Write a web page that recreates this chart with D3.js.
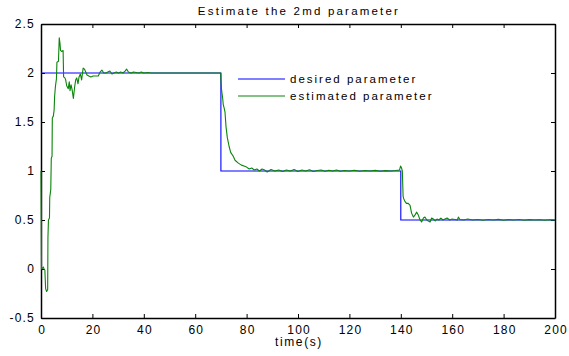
<!DOCTYPE html>
<html>
<head>
<meta charset="utf-8">
<script src="https://d3js.org/d3.v7.min.js"></script>
<style>
  html, body { margin: 0; padding: 0; background: #fff; }
  svg { display: block; }
  text { font-family: "Liberation Sans", Arial, Helvetica, sans-serif; fill: #000; }
</style>
</head>
<body>
<svg id="chart" width="569" height="356"></svg>
<script>
const titleText = "Estimate the 2md parameter";
const xLabel = "time(s)";
const seriesNames = ["desired parameter", "estimated parameter"];
const xTicks = [0, 20, 40, 60, 80, 100, 120, 140, 160, 180, 200];
const yTicks = [-0.5, 0, 0.5, 1, 1.5, 2, 2.5];
const yTickLabels = ["-0.5", "0", "0.5", "1", "1.5", "2", "2.5"];

// desired parameter (step function) as [time, value]
const desiredData = [[0, 2], [70, 2], [70, 1], [140, 1], [140, 0.5], [200, 0.5]];

// estimated parameter as [time, value]
const estimatedData = [
  [0, 1.0], [0.2, 0.0], [0.6, 0.01], [0.9, 0.02], [1.2, 0.0], [1.5, -0.01], [1.8, -0.2], [2.2, -0.23], [2.6, -0.21],
  [2.7, 0.32], [2.9, 0.5], [3.3, 0.52], [3.4, 0.73], [3.8, 0.81], [4.0, 1.13], [4.3, 1.15], [4.4, 1.54], [4.8, 1.56],
  [5.1, 1.62], [5.3, 1.76], [5.6, 1.86], [6.0, 1.94], [6.2, 2.11], [6.8, 2.12], [7.1, 2.36], [7.4, 2.3], [7.6, 2.23],
  [8.0, 2.22], [8.6, 2.23], [8.8, 1.96], [9.3, 1.95], [9.6, 1.93], [10.0, 1.87], [10.6, 1.84], [11.0, 1.91], [11.3, 1.82],
  [11.7, 1.88], [12.1, 1.83], [12.6, 1.74], [13.1, 1.86], [13.5, 1.93], [13.9, 1.95], [14.4, 1.89], [14.8, 1.96],
  [15.3, 1.99], [15.8, 1.93], [16.4, 2.05], [16.9, 2.04], [17.4, 2.01], [17.9, 1.98], [18.6, 1.97], [19.4, 1.96],
  [20.3, 1.97], [21.3, 1.97], [22.3, 1.97], [23.0, 2.01], [23.7, 2.03], [24.4, 2.0], [25.2, 2.0], [26.0, 2.01],
  [26.8, 2.02], [27.6, 1.99], [28.4, 2.0], [29.3, 2.01], [30.2, 2.0], [31.0, 2.01], [31.9, 2.0], [32.7, 2.02],
  [33.3, 2.04], [34.0, 2.01], [35.0, 2.0], [36.0, 2.01], [37.0, 2.005], [38.0, 2.0], [39.0, 2.01], [40.0, 2.0],
  [41.5, 2.005], [43.0, 2.0], [45.0, 2.0], [50.0, 2.0], [55.0, 2.0], [60.0, 2.0], [65.0, 2.0], [69.9, 2.0],
  [70.2, 1.84], [70.4, 1.8], [70.7, 1.74], [70.9, 1.68], [71.3, 1.64], [71.6, 1.6], [72.0, 1.45], [72.5, 1.34],
  [73.2, 1.25], [73.8, 1.19], [74.8, 1.15], [75.5, 1.11], [76.8, 1.08], [78.0, 1.06], [79.0, 1.05], [80.0, 1.04],
  [81.0, 1.02], [82.0, 1.03], [83.0, 1.01], [84.0, 1.02], [85.0, 1.0], [86.0, 1.02], [87.0, 1.01], [88.0, 0.99],
  [89.5, 1.015], [91.0, 1.0], [92.5, 1.01], [94.0, 0.995], [95.5, 1.01], [97.0, 1.0], [98.5, 1.015], [100.0, 0.995],
  [101.5, 1.01], [103.0, 1.0], [104.5, 1.012], [106.0, 0.995], [107.5, 1.005], [109.0, 1.01], [110.5, 0.998],
  [112.0, 1.008], [113.5, 1.0], [115.0, 1.01], [116.5, 0.997], [118.0, 1.005], [120.0, 1.0], [122.0, 1.008],
  [124.0, 0.998], [126.0, 1.005], [128.0, 1.0], [130.0, 1.006], [132.0, 0.998], [134.0, 1.004], [136.0, 1.0],
  [138.0, 1.005], [139.5, 1.01], [139.9, 1.05], [140.3, 1.03], [140.6, 1.0],
  [140.9, 0.74], [141.1, 0.72], [141.6, 0.69], [142.2, 0.67], [142.9, 0.67], [143.6, 0.65], [144.2, 0.57],
  [144.9, 0.53], [145.5, 0.55], [146.2, 0.58], [146.8, 0.55], [147.5, 0.5], [148.1, 0.48], [148.8, 0.52],
  [149.4, 0.53], [150.1, 0.5], [150.7, 0.49], [151.4, 0.48], [152.0, 0.52], [152.7, 0.51], [153.4, 0.49],
  [154.1, 0.51], [154.8, 0.5], [155.6, 0.52], [156.4, 0.5], [157.2, 0.51], [158.0, 0.52], [159.0, 0.5],
  [160.0, 0.51], [161.0, 0.505], [162.0, 0.5], [162.4, 0.53], [163.0, 0.505], [164.5, 0.5], [166.0, 0.51],
  [168.0, 0.5], [170.0, 0.505], [172.0, 0.498], [174.0, 0.505], [176.0, 0.5], [178.0, 0.506], [180.0, 0.498],
  [182.0, 0.504], [184.0, 0.5], [186.0, 0.505], [188.0, 0.498], [190.0, 0.504], [192.0, 0.5], [194.0, 0.503],
  [196.0, 0.498], [198.0, 0.502], [200.0, 0.5]
];

const svg = d3.select("#chart");
const mLeft = 41, mRight = 555, mTop = 24, mBottom = 318;

const x = d3.scaleLinear().domain([0, 200]).range([mLeft, mRight]);
const y = d3.scaleLinear().domain([-0.5, 2.5]).range([mBottom, mTop]);

svg.append("rect").attr("x", mLeft).attr("y", mTop)
  .attr("width", mRight - mLeft).attr("height", mBottom - mTop).attr("fill", "#fff");

const tickLen = 4;
const gx = svg.append("g").attr("transform", `translate(0,${mBottom})`)
  .call(d3.axisBottom(x).tickValues(xTicks).tickSizeInner(-tickLen).tickSizeOuter(0).tickPadding(7).tickFormat(d3.format("d")));
const gxTop = svg.append("g").attr("transform", `translate(0,${mTop})`)
  .call(d3.axisTop(x).tickValues(xTicks).tickSizeInner(-tickLen).tickSizeOuter(0).tickFormat(""));
const gy = svg.append("g").attr("transform", `translate(${mLeft},0)`)
  .call(d3.axisLeft(y).tickValues(yTicks).tickSizeInner(-tickLen).tickSizeOuter(0).tickPadding(6)
    .tickFormat((d, i) => yTickLabels[i]));
const gyR = svg.append("g").attr("transform", `translate(${mRight},0)`)
  .call(d3.axisRight(y).tickValues(yTicks).tickSizeInner(-tickLen).tickSizeOuter(0).tickFormat(""));

[gx, gxTop, gy, gyR].forEach(g => {
  g.selectAll(".domain").attr("stroke", "#000").attr("stroke-width", 1.5);
  g.selectAll(".tick line").attr("stroke", "#000").attr("stroke-width", 1);
  g.selectAll("text").attr("font-size", 12).attr("letter-spacing", "1.2px")
    .attr("font-family", "'Liberation Sans', Arial, sans-serif").attr("fill", "#000");
});
// compensate trailing letter-spacing for centred x labels
gx.selectAll("text").attr("dx", "0.6px");

const line = d3.line().x(d => x(d[0])).y(d => y(d[1]));

svg.append("path").datum(desiredData).attr("d", line)
  .attr("fill", "none").attr("stroke", "#0000ff").attr("stroke-width", 1.1);
svg.append("path").datum(estimatedData).attr("d", line)
  .attr("fill", "none").attr("stroke", "#0a840a").attr("stroke-width", 1.1).attr("stroke-linejoin", "round");

svg.append("text").attr("x", (mLeft + mRight) / 2 + 1).attr("y", 15)
  .attr("text-anchor", "middle").attr("font-size", 11.5).attr("letter-spacing", "2.2px").text(titleText);
svg.append("text").attr("x", (mLeft + mRight) / 2 + 1).attr("y", 346)
  .attr("text-anchor", "middle").attr("font-size", 12).attr("letter-spacing", "1.6px").text(xLabel);

const legColors = ["#0000ff", "#0a840a"];
const legY = [79, 96];
seriesNames.forEach((name, i) => {
  svg.append("line").attr("x1", 238).attr("x2", 285).attr("y1", legY[i]).attr("y2", legY[i])
    .attr("stroke", legColors[i]).attr("stroke-width", 1.1);
  svg.append("text").attr("x", 290).attr("y", legY[i] + 4).attr("font-size", 11.5)
    .attr("letter-spacing", "2px").text(name);
});
</script>
</body>
</html>
